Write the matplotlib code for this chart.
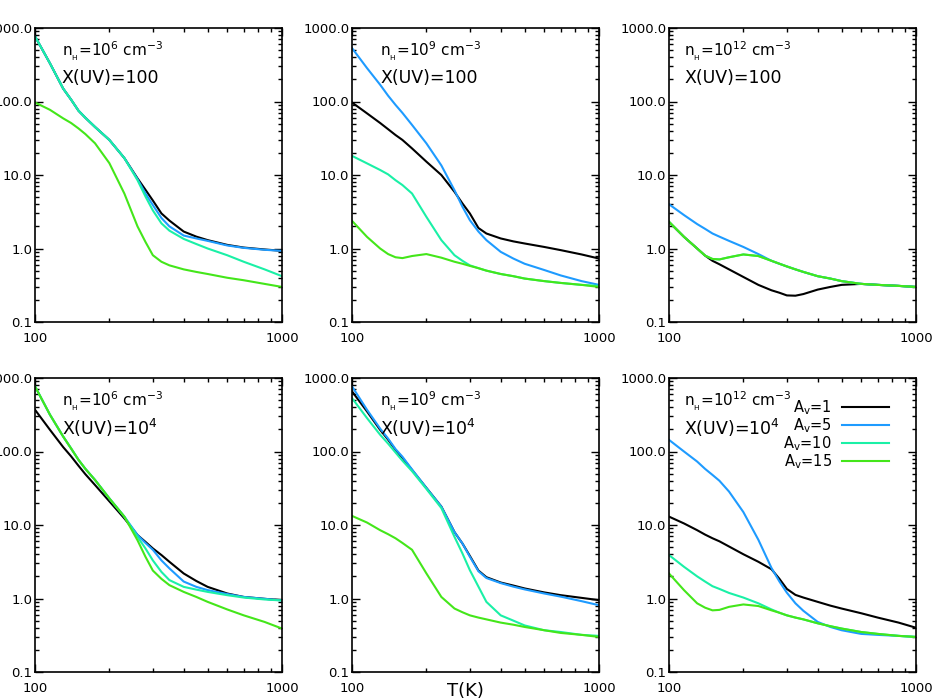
import matplotlib
matplotlib.use('Agg')
import matplotlib.pyplot as plt
from matplotlib.ticker import FixedLocator, NullFormatter

plt.rcParams['font.family'] = 'DejaVu Sans'
plt.rcParams['mathtext.default'] = 'regular'

# temperature grid (K)
T = [100, 115, 130, 140, 150, 160, 175, 200, 230, 260, 280, 300, 325, 350, 400, 450, 500, 600, 700, 850, 1000]

# n_H = 1e6, X(UV) = 100
n6_x2_av1 = [770, 330, 150, 106, 75, 60, 45, 30, 17, 9.0, 6.3, 4.5, 3.0, 2.4, 1.7, 1.45, 1.3, 1.12, 1.03, 0.97, 0.93]
n6_x2_av5 = [770, 330, 150, 106, 75, 60, 45, 30, 17, 8.8, 5.6, 3.9, 2.6, 2.0, 1.5, 1.37, 1.27, 1.1, 1.02, 0.96, 0.93]
n6_x2_av10 = [770, 330, 150, 106, 75, 60, 45, 30, 17, 8.5, 5.1, 3.3, 2.2, 1.75, 1.35, 1.15, 1.0, 0.81, 0.66, 0.52, 0.42]
n6_x2_av15 = [97, 77, 59, 51, 43, 36, 27, 14.5, 5.6, 2.0, 1.23, 0.81, 0.66, 0.59, 0.52, 0.48, 0.45, 0.40, 0.37, 0.33, 0.30]

# n_H = 1e9, X(UV) = 100
n9_x2_av1 = [97, 69, 51, 42, 35, 30, 23, 15.2, 10, 5.9, 4.1, 3.0, 1.9, 1.6, 1.37, 1.25, 1.17, 1.05, 0.95, 0.83, 0.73]
n9_x2_av5 = [533, 285, 169, 120, 90, 70, 48, 27, 13.5, 6.2, 3.7, 2.43, 1.7, 1.30, 0.90, 0.73, 0.62, 0.51, 0.43, 0.36, 0.32]
n9_x2_av10 = [18.2, 14.4, 11.7, 10.2, 8.5, 7.3, 5.6, 2.7, 1.30, 0.81, 0.68, 0.59, 0.54, 0.50, 0.45, 0.42, 0.39, 0.36, 0.34, 0.32, 0.31]
n9_x2_av15 = [2.38, 1.44, 1.0, 0.84, 0.76, 0.74, 0.79, 0.84, 0.75, 0.66, 0.62, 0.58, 0.54, 0.50, 0.45, 0.42, 0.39, 0.36, 0.34, 0.32, 0.30]

# n_H = 1e12, X(UV) = 100
n12_x2_av1 = [2.29, 1.44, 1.0, 0.80, 0.68, 0.61, 0.52, 0.41, 0.32, 0.27, 0.25, 0.23, 0.228, 0.24, 0.276, 0.30, 0.32, 0.33, 0.32, 0.31, 0.30]
n12_x2_av5 = [4.0, 2.85, 2.15, 1.85, 1.6, 1.45, 1.27, 1.05, 0.84, 0.68, 0.62, 0.57, 0.52, 0.48, 0.42, 0.39, 0.36, 0.33, 0.32, 0.31, 0.30]
n12_x2_av10 = [2.31, 1.44, 1.0, 0.80, 0.72, 0.71, 0.76, 0.83, 0.79, 0.68, 0.62, 0.57, 0.52, 0.48, 0.42, 0.39, 0.36, 0.33, 0.32, 0.31, 0.30]
n12_x2_av15 = [2.31, 1.44, 1.0, 0.80, 0.72, 0.71, 0.76, 0.83, 0.79, 0.68, 0.62, 0.57, 0.52, 0.48, 0.42, 0.39, 0.36, 0.33, 0.32, 0.31, 0.30]

# n_H = 1e6, X(UV) = 1e4
n6_x4_av1 = [370, 197, 115, 86, 64, 49, 35, 21, 12.3, 7.3, 5.9, 4.8, 3.9, 3.16, 2.19, 1.73, 1.44, 1.17, 1.05, 0.99, 0.95]
n6_x4_av5 = [770, 316, 160, 110, 77, 58, 41, 23, 13, 7.3, 5.7, 4.6, 3.3, 2.57, 1.70, 1.44, 1.30, 1.15, 1.05, 0.99, 0.94]
n6_x4_av10 = [770, 316, 160, 110, 77, 58, 41, 23, 13, 6.9, 4.8, 3.3, 2.3, 1.78, 1.44, 1.32, 1.23, 1.11, 1.03, 0.97, 0.94]
n6_x4_av15 = [770, 316, 160, 110, 77, 58, 41, 23, 13, 6.2, 3.7, 2.4, 1.85, 1.52, 1.23, 1.05, 0.90, 0.71, 0.59, 0.48, 0.39]

# n_H = 1e9, X(UV) = 1e4
n9_x4_av1 = [658, 351, 197, 145, 105, 82, 56, 32, 17.8, 8.0, 5.6, 3.8, 2.4, 1.95, 1.65, 1.5, 1.37, 1.21, 1.11, 1.02, 0.95]
n9_x4_av5 = [770, 370, 205, 150, 108, 85, 57, 32, 17.8, 8.0, 5.6, 3.7, 2.35, 1.9, 1.62, 1.45, 1.33, 1.17, 1.06, 0.92, 0.81]
n9_x4_av10 = [533, 285, 169, 128, 97, 75, 54, 31, 17, 6.9, 4.1, 2.43, 1.45, 0.90, 0.59, 0.50, 0.43, 0.37, 0.35, 0.32, 0.31]
n9_x4_av15 = [13.3, 10.8, 8.5, 7.5, 6.6, 5.7, 4.6, 2.2, 1.05, 0.73, 0.65, 0.59, 0.55, 0.52, 0.47, 0.44, 0.41, 0.37, 0.34, 0.32, 0.30]

# n_H = 1e12, X(UV) = 1e4
n12_x4_av1 = [13.0, 10.5, 8.5, 7.4, 6.6, 6.0, 5.1, 4.0, 3.16, 2.5, 1.85, 1.35, 1.12, 1.03, 0.90, 0.80, 0.73, 0.63, 0.55, 0.47, 0.40]
n12_x4_av5 = [144, 100, 73, 58, 48, 40, 28.5, 15, 6.3, 2.6, 1.7, 1.2, 0.86, 0.68, 0.48, 0.41, 0.37, 0.33, 0.32, 0.31, 0.30]
n12_x4_av10 = [3.9, 2.7, 2.0, 1.7, 1.47, 1.35, 1.19, 1.03, 0.86, 0.71, 0.64, 0.59, 0.55, 0.52, 0.46, 0.42, 0.39, 0.35, 0.33, 0.31, 0.30]
n12_x4_av15 = [2.19, 1.30, 0.86, 0.75, 0.69, 0.70, 0.77, 0.83, 0.79, 0.69, 0.64, 0.59, 0.55, 0.52, 0.46, 0.42, 0.39, 0.35, 0.33, 0.31, 0.30]

av_labels = ['$A_v$=1', '$A_v$=5', '$A_v$=10', '$A_v$=15']
colors = ['black', '#1E9BFF', '#1AF0A6', '#44E61A']

dens_labels = ['$n_{_H}$=10$^{6}$ cm$^{-3}$', '$n_{_H}$=10$^{9}$ cm$^{-3}$',
               '$n_{_H}$=10$^{12}$ cm$^{-3}$']
uv_labels = ['X(UV)=100', 'X(UV)=10$^{4}$']

panels = [[n6_x2_av1, n6_x2_av5, n6_x2_av10, n6_x2_av15],
          [n9_x2_av1, n9_x2_av5, n9_x2_av10, n9_x2_av15],
          [n12_x2_av1, n12_x2_av5, n12_x2_av10, n12_x2_av15],
          [n6_x4_av1, n6_x4_av5, n6_x4_av10, n6_x4_av15],
          [n9_x4_av1, n9_x4_av5, n9_x4_av10, n9_x4_av15],
          [n12_x4_av1, n12_x4_av5, n12_x4_av10, n12_x4_av15]]

fig = plt.figure(figsize=(9.5, 7), dpi=100)

lefts = [35, 352, 669]
bottoms = [322, 672]
text_x = [0.108, 0.114, 0.061]

for k, series in enumerate(panels):
    row, col = divmod(k, 3)
    ax = fig.add_axes([lefts[col] / 950, 1 - bottoms[row] / 700, 247 / 950, 294 / 700])
    for j in range(4):
        ax.plot(T, series[j], color=colors[j], lw=1.5, label=av_labels[j],
                solid_joinstyle='round')
    ax.set_xscale('log')
    ax.set_yscale('log')
    ax.set_xlim(100, 1000)
    ax.set_ylim(0.1, 1000)

    ax.xaxis.set_major_locator(FixedLocator([100, 1000]))
    ax.set_xticklabels(['100', '1000'])
    ax.xaxis.set_minor_locator(FixedLocator(range(200, 1000, 100)))
    ax.xaxis.set_minor_formatter(NullFormatter())
    ax.yaxis.set_major_locator(FixedLocator([0.1, 1, 10, 100, 1000]))
    ax.set_yticklabels(['0.1', '1.0', '10.0', '100.0', '1000.0'])
    yminor = [m * 10.0 ** e for e in range(-1, 3) for m in range(2, 10)]
    ax.yaxis.set_minor_locator(FixedLocator(yminor))
    ax.yaxis.set_minor_formatter(NullFormatter())

    ax.tick_params(which='both', direction='in', top=True, right=True, labelsize=9.5, width=1)
    ax.tick_params(which='major', length=5.5)
    ax.tick_params(which='minor', length=3)
    ax.tick_params(axis='x', pad=7)
    ax.tick_params(axis='y', pad=2)
    for s in ax.spines.values():
        s.set_linewidth(1.2)

    ax.text(text_x[col], 0.92, dens_labels[col], transform=ax.transAxes,
            fontsize=11, va='center', ha='left')
    ax.text(text_x[col], 0.83, uv_labels[row], transform=ax.transAxes,
            fontsize=12.5, va='center', ha='left')

    if k == 5:
        ax.legend(loc='upper right', bbox_to_anchor=(0.89, 0.93), frameon=False,
                  markerfirst=False, fontsize=10.5, handlelength=3.2,
                  handletextpad=0.7, labelspacing=-0.05, borderpad=0, borderaxespad=0)

fig.text(465 / 950, 1 - 691 / 700, 'T(K)', fontsize=13, ha='center', va='center')

fig.savefig('out.png', dpi=100)
